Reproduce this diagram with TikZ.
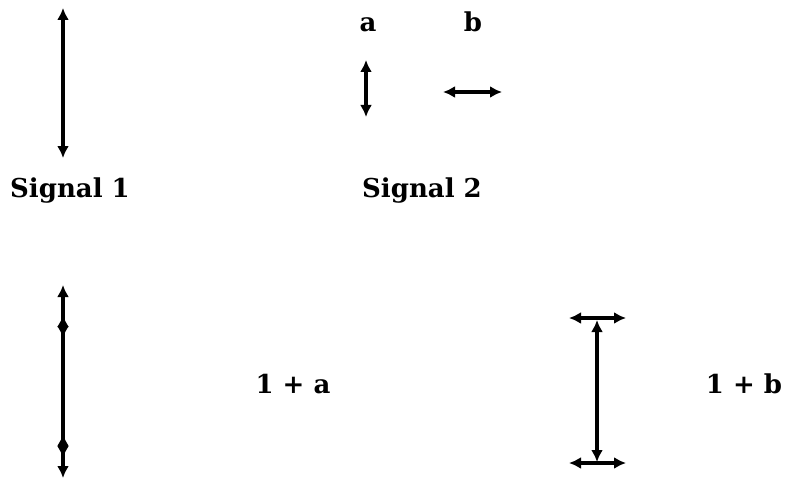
\documentclass[tikz,border=0pt]{standalone}
\usepackage{fontspec}
\setmainfont{DejaVu Serif}
\usepackage{tikz}
\usetikzlibrary{
    arrows.meta,positioning
}

\begin{document}
\begin{tikzpicture}[
  x=0.5pt,
  y=-0.5pt,
  >={Latex[length=6pt,width=6pt]},
  sig/.style={<->, line width=2pt},
  tip/.style={->, line width=2pt},
  lbl/.style={anchor=base, font=\fontsize{13}{15}\selectfont\bfseries},
]
  \useasboundingbox (0,0) rectangle (786,481);

  % Signal 1: one long vertical excursion
  \draw[sig] (63,8) -- (63,158);
  \node[lbl] (sigone) at (70,197) {Signal 1};

  % Signal 2: the two small components a and b
  \node[lbl] (compa) at (368,32) {a};
  \node[lbl] (compb) at (473,32) {b};
  \draw[sig] (366,60) -- (366,117);
  \draw[sig] (443,92) -- (502,92);
  \node[lbl] (sigtwo) at (422,197) {Signal 2};

  % 1 + a: small vertical excursions sitting on both ends
  \draw[sig] (63,285) -- (63,478);
  \draw[tip] (63,332) -- (63,315);
  \draw[tip] (63,320) -- (63,338);
  \draw[tip] (63,452) -- (63,434);
  \draw[tip] (63,440) -- (63,458);
  \node[lbl] (sumA) at (293,393) {1 + a};

  % 1 + b: horizontal excursions across both ends
  \draw[sig] (597,320) -- (597,462);
  \draw[sig] (569,318) -- (626,318);
  \draw[sig] (569,463) -- (626,463);
  \node[lbl] (sumB) at (744,393) {1 + b};
\end{tikzpicture}
\end{document}
